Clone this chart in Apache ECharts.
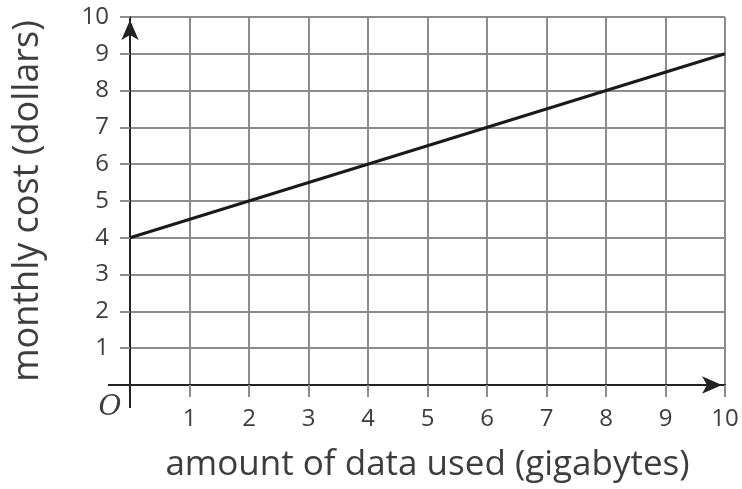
<!DOCTYPE html>
<html>
<head>
<meta charset="utf-8">
<script src="https://cdn.jsdelivr.net/npm/echarts@6/dist/echarts.min.js"></script>
<style>
  html, body { margin: 0; padding: 0; background: #fff; }
  #chart { width: 742px; height: 489px; }
</style>
</head>
<body>
<div id="chart"></div>
<script>
// data
var gigabytes = [0, 10];
var costDollars = [4, 9];
var xTicks = [0, 1, 2, 3, 4, 5, 6, 7, 8, 9, 10];
var yTicks = [0, 1, 2, 3, 4, 5, 6, 7, 8, 9, 10];

var textColor = '#3d3d3d';
var gridColor = '#8c8c8c';
var axisColor = '#222';

var points = [];
for (var i = 0; i < gigabytes.length; i++) {
    points.push([gigabytes[i], costDollars[i]]);
}

var chart = echarts.init(document.getElementById('chart'));
var option = {
    animation: false,
    textStyle: { fontFamily: 'Open Sans' },
    grid: { left: 130, right: 17, top: 17, bottom: 104, containLabel: false, outerBoundsMode: 'none' },
    xAxis: {
        type: 'value',
        min: xTicks[0],
        max: xTicks[xTicks.length - 1],
        interval: 1,
        name: 'amount of data used (gigabytes)',
        nameLocation: 'middle',
        nameGap: 63,
        nameTextStyle: { fontSize: 35, color: textColor, fontFamily: 'Open Sans' },
        axisLine: {
            show: true,
            symbol: ['none', 'arrow'],
            symbolSize: [13, 20],
            symbolOffset: [0, -3],
            lineStyle: { color: axisColor, width: 2 }
        },
        axisTick: { show: true, length: 12, lineStyle: { color: gridColor, width: 2 } },
        axisLabel: {
            fontSize: 24,
            color: textColor,
            margin: 22,
            formatter: function (v) {
                return v === 0 ? '' : String(v);
            }
        },
        splitLine: { show: true, lineStyle: { color: gridColor, width: 2 } }
    },
    yAxis: {
        type: 'value',
        min: yTicks[0],
        max: yTicks[yTicks.length - 1],
        interval: 1,
        name: 'monthly cost (dollars)',
        nameLocation: 'middle',
        nameGap: 84,
        nameTextStyle: { fontSize: 36, color: textColor, fontFamily: 'Open Sans' },
        axisLine: {
            show: true,
            symbol: ['none', 'arrow'],
            symbolSize: [13, 20],
            symbolOffset: [0, -3],
            lineStyle: { color: axisColor, width: 2 }
        },
        axisTick: { show: true, length: 10, lineStyle: { color: gridColor, width: 2 } },
        axisLabel: {
            fontSize: 24,
            color: textColor,
            margin: 21,
            formatter: function (v) {
                return v === 0 ? '' : String(v);
            }
        },
        splitLine: { show: true, lineStyle: { color: gridColor, width: 2 } }
    },
    series: [
        {
            type: 'line',
            data: points,
            symbol: 'none',
            lineStyle: { color: '#1a1a1a', width: 3 },
            z: 5
        }
    ]
};
chart.setOption(option);

// short extensions of the two axes past the origin, and the origin letter
var o = chart.convertToPixel({ gridIndex: 0 }, [0, 0]);
chart.setOption({
    graphic: [
        { type: 'line', shape: { x1: o[0] - 22, y1: o[1], x2: o[0], y2: o[1] }, style: { stroke: axisColor, lineWidth: 2 }, z: 10 },
        { type: 'line', shape: { x1: o[0], y1: o[1], x2: o[0], y2: o[1] + 23 }, style: { stroke: axisColor, lineWidth: 2 }, z: 10 },
        {
            type: 'text', x: o[0] - 20, y: o[1] + 23, z: 10,
            style: {
                text: 'O', fill: textColor, align: 'center', verticalAlign: 'middle',
                font: 'italic 28px "DejaVu Serif"'
            }
        }
    ]
});
</script>
</body>
</html>
